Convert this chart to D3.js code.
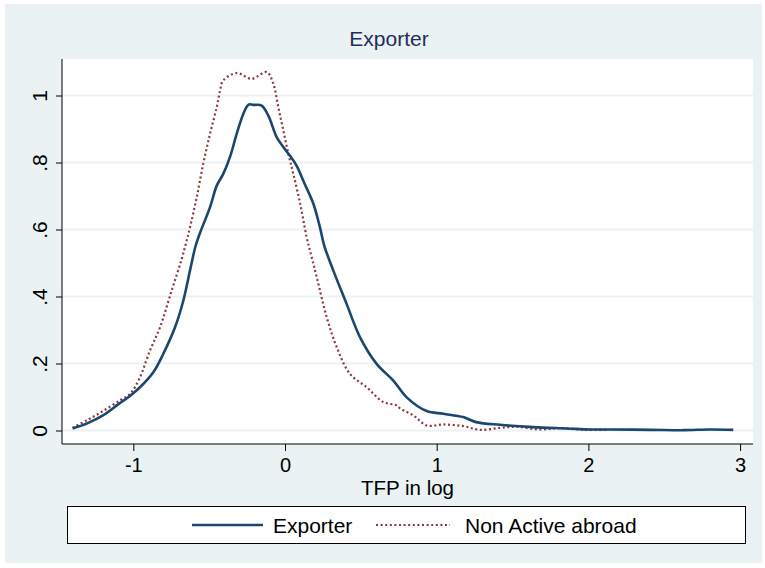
<!DOCTYPE html>
<html><head><meta charset="utf-8">
<script src="https://cdn.jsdelivr.net/npm/d3@7"></script>
<style>body{margin:0;background:#fff}svg{display:block}text{font-family:"Liberation Sans",Arial,sans-serif}</style>
</head><body><svg id="c" width="765" height="568"></svg>
<script>
const titleText = "Exporter";
const xLabel = "TFP in log";
const seriesNames = ["Exporter", "Non Active abroad"];
const xTicks = [-1, 0, 1, 2, 3];
const xTickLabels = ["-1", "0", "1", "2", "3"];
const yTicks = [0, 0.2, 0.4, 0.6, 0.8, 1];
const yTickLabels = ["0", ".2", ".4", ".6", ".8", "1"];

const exporterX = [-1.40,-1.30,-1.20,-1.10,-1.02,-0.956,-0.868,-0.802,-0.725,-0.67,-0.626,-0.59,-0.56,-0.494,-0.45,-0.407,-0.363,-0.318,-0.275,-0.24,-0.21,-0.154,-0.11,-0.055,-0.011,0.033,0.077,0.13,0.187,0.23,0.26,0.318,0.406,0.494,0.604,0.714,0.802,0.934,1.044,1.175,1.26,1.417,1.637,1.857,2.01,2.14,2.41,2.63,2.80,2.955];
const exporterY = [0.006,0.022,0.045,0.078,0.104,0.129,0.174,0.229,0.308,0.388,0.478,0.55,0.59,0.667,0.731,0.766,0.816,0.886,0.945,0.973,0.972,0.970,0.94,0.876,0.846,0.82,0.79,0.736,0.677,0.607,0.55,0.478,0.378,0.279,0.199,0.149,0.099,0.058,0.05,0.04,0.025,0.017,0.01,0.006,0.003,0.003,0.002,0.001,0.003,0.002];

const nonActiveX = [-1.40,-1.30,-1.20,-1.088,-1.02,-0.956,-0.89,-0.824,-0.747,-0.681,-0.648,-0.626,-0.582,-0.539,-0.494,-0.45,-0.428,-0.407,-0.318,-0.22,-0.12,-0.077,-0.044,-0.011,0.022,0.055,0.1,0.143,0.176,0.209,0.275,0.341,0.428,0.539,0.648,0.736,0.758,0.846,0.934,1.044,1.175,1.285,1.417,1.527,1.68,1.81,1.99,2.12];
const nonActiveY = [0.008,0.032,0.058,0.09,0.11,0.159,0.239,0.308,0.418,0.512,0.567,0.607,0.696,0.796,0.886,0.965,1.015,1.045,1.067,1.05,1.07,1.035,0.965,0.896,0.826,0.766,0.677,0.577,0.517,0.458,0.338,0.249,0.169,0.129,0.085,0.075,0.066,0.045,0.015,0.018,0.013,0.002,0.008,0.011,0.003,0.007,0.002,0.002];

const navy = "#1A476F", maroon = "#90353B", bg = "#EAF2F3";
const svg = d3.select("#c");
const L = 62, R = 753, T = 59, B = 444;

svg.append("rect").attr("x",5).attr("y",4).attr("width",757).attr("height",559).attr("fill",bg);
svg.append("rect").attr("x",L).attr("y",T).attr("width",R-L).attr("height",B-T).attr("fill","#fff");

const x = d3.scaleLinear().domain([-1.470, 3.085]).range([L, R]);
const y = d3.scaleLinear().domain([-0.0403, 1.109]).range([B, T]);

// gridlines
svg.append("g").selectAll("line").data(yTicks).join("line")
  .attr("x1",L).attr("x2",R).attr("y1",d=>y(d)).attr("y2",d=>y(d))
  .attr("stroke",bg).attr("stroke-width",2);

// axes
const yAxis = d3.axisLeft(y).tickValues(yTicks).tickFormat((d,i)=>yTickLabels[i]).tickSize(6).tickSizeOuter(0);
const gy = svg.append("g").attr("transform",`translate(${L},0)`).call(yAxis);
gy.select(".domain").attr("stroke","#000").attr("d",`M0,${T}V${B}`);
gy.selectAll(".tick line").attr("stroke","#000");
gy.selectAll(".tick text").attr("font-size",21).attr("fill","#000")
  .attr("x",null).attr("dy",null).attr("text-anchor","middle")
  .attr("transform","translate(-15,0) rotate(-90)");

const xAxis = d3.axisBottom(x).tickValues(xTicks).tickFormat((d,i)=>xTickLabels[i]).tickSize(7).tickSizeOuter(0);
const gx = svg.append("g").attr("transform",`translate(0,${B})`).call(xAxis);
gx.select(".domain").attr("stroke","#000").attr("d",`M${L},0H${R}`);
gx.selectAll(".tick line").attr("stroke","#000");
gx.selectAll(".tick text").attr("font-size",20).attr("fill","#000").attr("y",28).attr("dy",null);

// lines
const line = d3.line().x(d=>x(d[0])).y(d=>y(d[1])).curve(d3.curveCatmullRom.alpha(0.5));
svg.append("path").datum(nonActiveX.map((v,i)=>[v,nonActiveY[i]]))
  .attr("d",line).attr("fill","none").attr("stroke",maroon).attr("stroke-width",2.2).attr("stroke-dasharray","2 2.6");
svg.append("path").datum(exporterX.map((v,i)=>[v,exporterY[i]]))
  .attr("d",line).attr("fill","none").attr("stroke",navy).attr("stroke-width",2.6).attr("stroke-linejoin","round");

// titles
svg.append("text").attr("x",389).attr("y",46).attr("text-anchor","middle").attr("font-size",21).attr("fill","#1E2F5A").text(titleText);
svg.append("text").attr("x",(L+R)/2).attr("y",495).attr("text-anchor","middle").attr("font-size",20.5).attr("fill","#000").text(xLabel);

// legend
svg.append("rect").attr("x",67.5).attr("y",506.5).attr("width",678).attr("height",37).attr("fill","#fff").attr("stroke","#000").attr("stroke-width",1);
svg.append("line").attr("x1",192).attr("x2",263).attr("y1",525).attr("y2",525).attr("stroke",navy).attr("stroke-width",2.6);
svg.append("text").attr("x",273).attr("y",533).attr("font-size",21).attr("fill","#000").text(seriesNames[0]);
svg.append("line").attr("x1",376).attr("x2",450).attr("y1",525).attr("y2",525).attr("stroke",maroon).attr("stroke-width",2).attr("stroke-dasharray","2 2.6");
svg.append("text").attr("x",465).attr("y",533).attr("font-size",21).attr("fill","#000").text(seriesNames[1]);
</script></body></html>
